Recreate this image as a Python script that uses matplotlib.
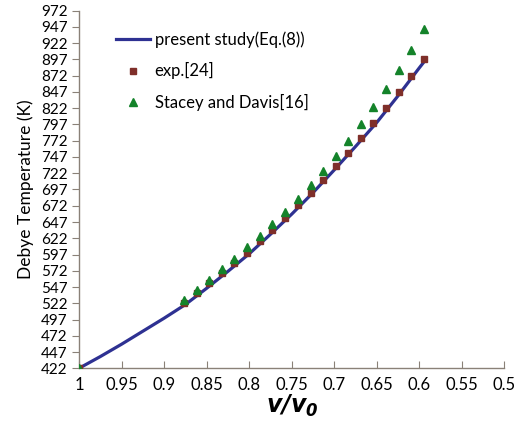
import numpy as np
import matplotlib
matplotlib.use("Agg")
import matplotlib.pyplot as plt

plt.rcParams['font.family'] = ['Lato', 'DejaVu Sans']
plt.rcParams['mathtext.fontset'] = 'custom'
plt.rcParams['mathtext.it'] = 'DejaVu Sans:italic:bold'
plt.rcParams['mathtext.rm'] = 'DejaVu Sans:italic:bold'

# du lieu doc tu hinh
v_line = [1.0, 0.975, 0.95, 0.925, 0.9, 0.875, 0.85, 0.825, 0.8, 0.775,
          0.75, 0.725, 0.7, 0.675, 0.65, 0.625, 0.6, 0.594]
t_line = [422, 440, 459, 479, 499, 520, 545, 571, 598, 628,
          659, 692, 727, 763, 800, 841, 884, 894]

v_pts = [1.0, 0.876, 0.8615, 0.8466, 0.8318, 0.8173, 0.802, 0.7876, 0.7731,
         0.7574, 0.743, 0.7277, 0.7133, 0.6984, 0.6843, 0.669, 0.6541,
         0.6393, 0.6244, 0.6095, 0.5942]
t_exp = [422, 522.8, 538.2, 553, 568.4, 584.4, 599.8, 617.2, 635.2, 653.7,
         673.1, 692.2, 712.2, 733.2, 753.8, 776.6, 798.5, 821.6, 846.3,
         871.4, 898]
t_stacey = [422, 527.4, 542.8, 557.6, 574.5, 590.5, 608.4, 624.9, 643.4,
            662.3, 682.4, 704.5, 725.5, 749.2, 772, 797.4, 823.6, 851.4,
            880.6, 911.9, 944.3]

x_ticks = [1, 0.95, 0.9, 0.85, 0.8, 0.75, 0.7, 0.65, 0.6, 0.55, 0.5]
x_labels = ['1', '0.95', '0.9', '0.85', '0.8', '0.75', '0.7', '0.65',
            '0.6', '0.55', '0.5']
y_ticks = list(range(422, 973, 25))

fig = plt.figure(figsize=(5.17, 4.21), dpi=100)
ax = fig.add_axes([0.1528, 0.1252, 0.8227, 0.8494])

ax.plot(v_line, t_line, color='#2e3192', lw=2.3,
        label='present study(Eq.(8))', zorder=2)
ax.plot(v_pts, t_exp, ls='none', marker='s', ms=5, color='#7f2f2a',
        label='exp.[24]', zorder=3)
ax.plot(v_pts, t_stacey, ls='none', marker='^', ms=5.3, color='#14832a',
        label='Stacey and Davis[16]', zorder=4)

ax.set_xlim(1, 0.5)
ax.set_ylim(422, 972)
ax.set_xticks(x_ticks)
ax.set_xticklabels(x_labels)
ax.set_yticks(y_ticks)

for s in ['top', 'right']:
    ax.spines[s].set_visible(False)
for s in ['left', 'bottom']:
    ax.spines[s].set_color('#8a8178')
    ax.spines[s].set_linewidth(1.0)

ax.tick_params(axis='x', direction='in', length=5, color='#8a8178',
               labelsize=12, pad=6)
ax.tick_params(axis='y', direction='out', length=5, color='#8a8178',
               labelsize=11, pad=3)

ax.set_xlabel(r'$v/v_0$', fontsize=17, labelpad=0)
ax.set_ylabel('Debye Temperature (K)', fontsize=12.5, labelpad=5)

ax.legend(loc='upper left', bbox_to_anchor=(0.072, 0.96), frameon=False,
          fontsize=12, handlelength=2.0, handletextpad=0.3,
          labelspacing=0.85, borderaxespad=0)

fig.savefig('out.png', dpi=100)
